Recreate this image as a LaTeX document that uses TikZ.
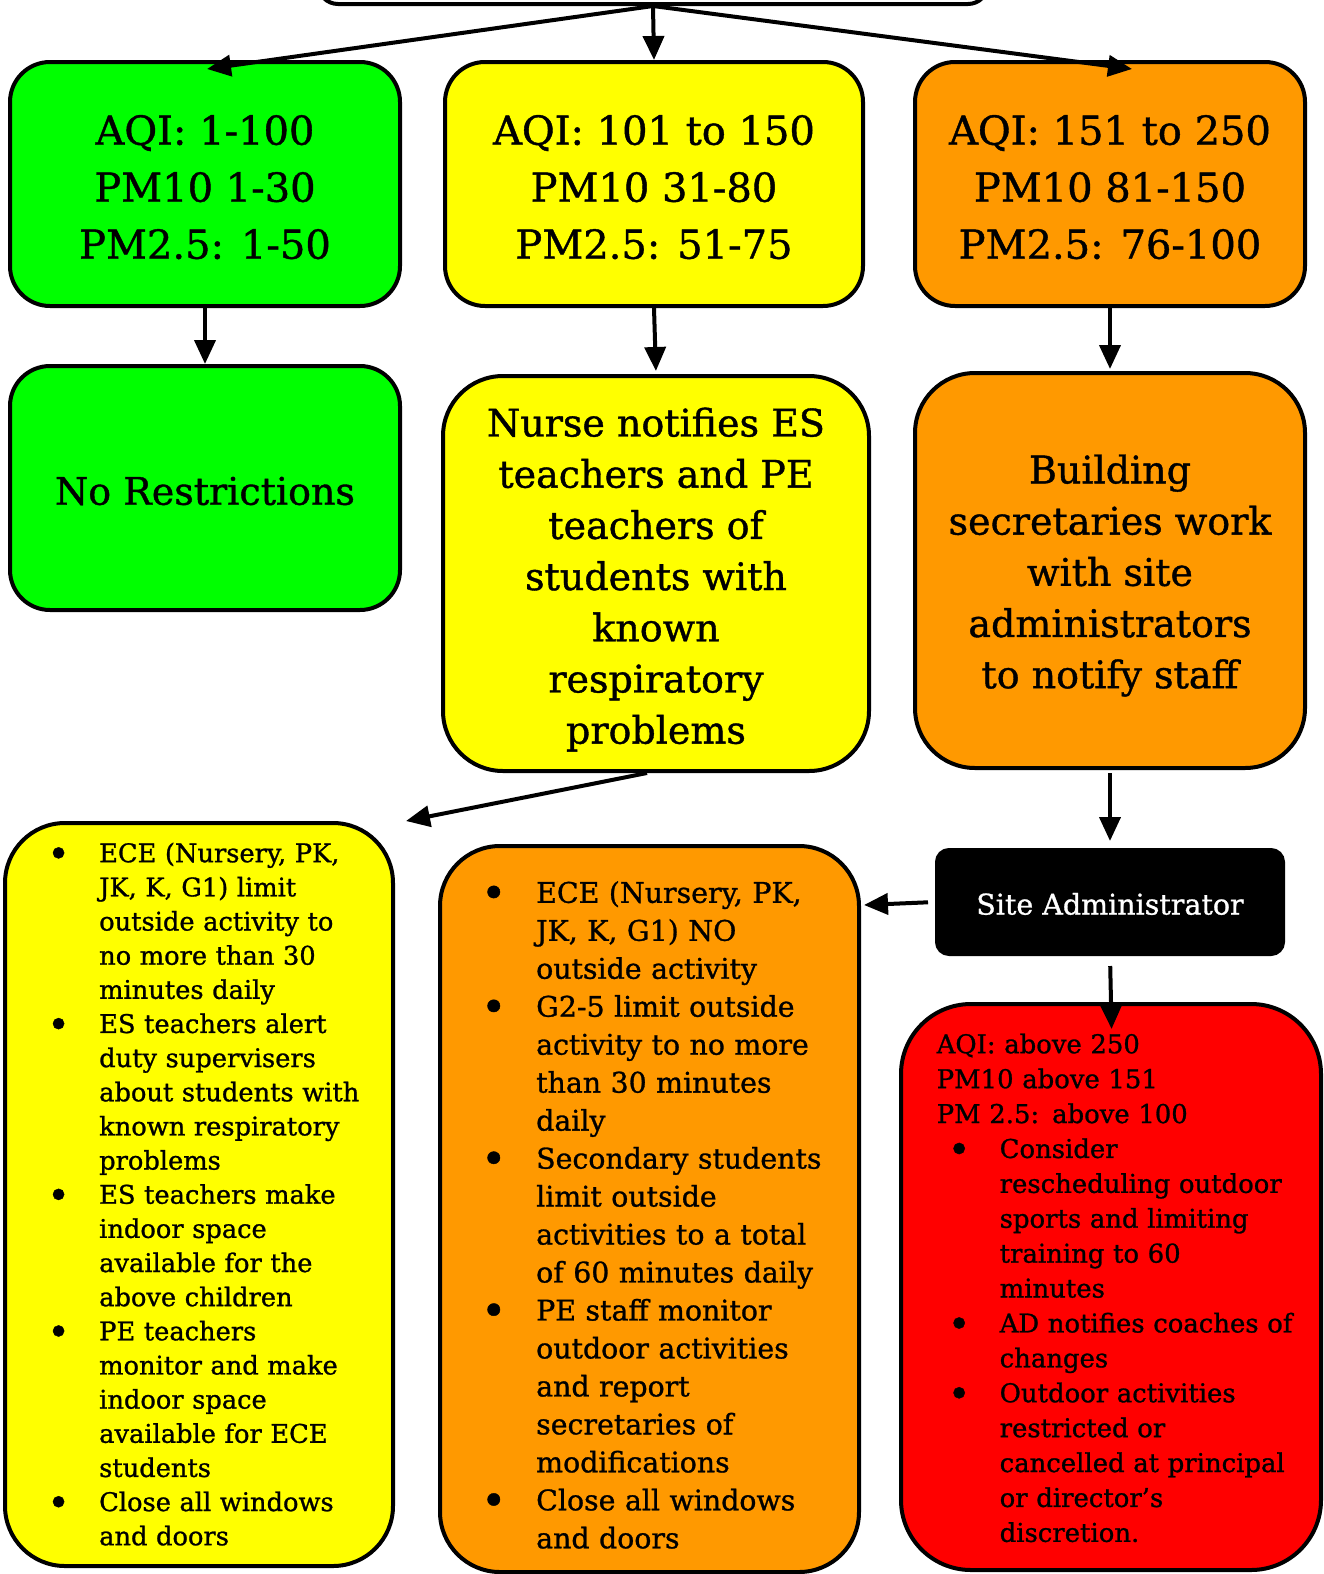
\documentclass[tikz,border=0pt]{standalone}
\usepackage{graphicx}
\usepackage{fontspec}
\setmainfont{DejaVu Serif}[FakeBold=1]
\usetikzlibrary{arrows.meta,calc}
\definecolor{cgreen}{HTML}{00FF00}
\definecolor{cyellow}{HTML}{FFFF00}
\definecolor{corange}{HTML}{FF9900}
\definecolor{cred}{HTML}{FF0000}
\newcommand\bigbul{\hspace*{-3pt}\raisebox{-5pt}{\scalebox{1.5}{\textbullet}}}
\newcommand\ybu{\makebox[49pt][l]{\bigbul}}
\newcommand\yct{\hspace*{49pt}}
\newcommand\obu{\makebox[52pt][l]{\bigbul}}
\newcommand\oct{\hspace*{52pt}}
\newcommand\rbu{\hspace*{14pt}\makebox[49pt][l]{\bigbul}}
\newcommand\rct{\hspace*{63pt}}
\begin{document}
\begin{tikzpicture}[x=1pt,y=-1pt,
  box/.style={draw=black, line width=4pt, rounded corners=#1, inner sep=0pt, align=center},
  box/.default=40pt,
  headfont/.style={font=\fontsize{40}{57}\selectfont},
  midfont/.style={font=\fontsize{38}{51.2}\selectfont},
  listtext/.style={inner sep=0pt, anchor=north west, align=left, text width=#1},
  arr/.style={line width=4pt, -{Triangle[length=24pt,width=21pt]}}
]
\useasboundingbox (0,0) rectangle (1323,1574);
% top (cut off) box
\node[box=20pt, fill=white, minimum width=670pt, minimum height=64pt] (top) at (653,-28) {};
% row 1
\node[box, fill=cgreen, minimum width=390pt, minimum height=244pt, headfont] (g1) at (205,184)
  {\rule{0pt}{36pt}AQI: 1-100\\PM10 1-30\\PM2.5: 1-50};
\node[box, fill=cyellow, minimum width=418pt, minimum height=244pt, headfont] (y1) at (654,184)
  {\rule{0pt}{36pt}AQI: 101 to 150\\PM10 31-80\\PM2.5: 51-75};
\node[box, fill=corange, minimum width=390pt, minimum height=244pt, headfont] (o1) at (1110,184)
  {\rule{0pt}{36pt}AQI: 151 to 250\\PM10 81-150\\PM2.5: 76-100};
% row 2
\node[box, fill=cgreen, minimum width=390pt, minimum height=244pt, midfont] (g2) at (205,488)
  {\rule{0pt}{34pt}No Restrictions};
\node[box=60pt, fill=cyellow, minimum width=426pt, minimum height=395pt, midfont] (y2) at (656,573.5)
  {\rule{0pt}{41pt}Nurse notifies ES\\teachers and PE\\teachers of\\students with\\known\\respiratory\\problems};
\node[box=60pt, fill=corange, minimum width=390pt, minimum height=395pt, midfont] (o2) at (1110,570.5)
  {\rule{0pt}{39pt}Building\\secretaries work\\with site\\administrators\\to notify staff};
% row 3
\node[box=60pt, fill=cyellow, minimum width=388pt, minimum height=743pt] (y3) at (199,1194.5) {};
\node[box=60pt, fill=corange, minimum width=419pt, minimum height=726pt] (o3) at (649.5,1209) {};
\node[box=12pt, fill=black, text=white, minimum width=346pt, minimum height=104pt,
  font=\fontsize{28.5}{34}\selectfont] (sa) at (1110,902) {\rule{0pt}{25.5pt}Site Administrator};
\node[box=70pt, fill=cred, minimum width=420pt, minimum height=566pt] (rd) at (1111,1287) {};
% list texts
\node[listtext=340pt, font=\fontsize{25.7}{34.15}\selectfont] (y3t) at (50,838.1) {%
\strut\ybu ECE (Nursery, PK,\\
\yct JK, K, G1) limit\\
\yct outside activity to\\
\yct no more than 30\\
\yct minutes daily\\
\ybu ES teachers alert\\
\yct duty supervisers\\
\yct about students with\\
\yct known respiratory\\
\yct problems\\
\ybu ES teachers make\\
\yct indoor space\\
\yct available for the\\
\yct above children\\
\ybu PE teachers\\
\yct monitor and make\\
\yct indoor space\\
\yct available for ECE\\
\yct students\\
\ybu Close all windows\\
\yct and doors};
\node[listtext=370pt, font=\fontsize{28.4}{37.97}\selectfont] (o3t) at (484,876) {%
\strut\obu ECE (Nursery, PK,\\
\oct JK, K, G1) NO\\
\oct outside activity\\
\obu G2-5 limit outside\\
\oct activity to no more\\
\oct than 30 minutes\\
\oct daily\\
\obu Secondary students\\
\oct limit outside\\
\oct activities to a total\\
\oct of 60 minutes daily\\
\obu PE staff monitor\\
\oct outdoor activities\\
\oct and report\\
\oct secretaries of\\
\oct modifications\\
\obu Close all windows\\
\oct and doors};
\node[listtext=385pt, font=\fontsize{25.9}{34.9}\selectfont] (rdt) at (936.5,1028.6) {%
\strut AQI: above 250\\
PM10 above 151\\
PM 2.5: above 100\\
\rbu Consider\\
\rct rescheduling outdoor\\
\rct sports and limiting\\
\rct training to 60\\
\rct minutes\\
\rbu AD notifies coaches of\\
\rct changes\\
\rbu Outdoor activities\\
\rct restricted or\\
\rct cancelled at principal\\
\rct or director’s\\
\rct discretion.};
% connectors
\draw[arr] (top.south) -- ([xshift=2pt,yshift=-9pt]g1.north);
\draw[arr] (top.south) -- (y1.north);
\draw[arr] (top.south) -- ([xshift=22pt,yshift=-9pt]o1.north);
\draw[arr] (g1.south) -- (g2.north);
\draw[arr, shorten >=3pt] (y1.south) -- (y2.north);
\draw[arr, shorten >=2pt] (o1.south) -- (o2.north);
\draw[arr] ([xshift=-9pt]y2.south) -- ([xshift=11pt]y3.north east);
\draw[arr, shorten <=3pt, shorten >=7pt] (o2.south) -- (sa.north);
\draw[arr, shorten <=7pt] (sa.west) -- ($(sa.west -| o3.east)+(3,3)$);
\draw[arr, shorten <=10pt, shorten >=-27pt] (sa.south) -- (rd.north);
\end{tikzpicture}
\end{document}
